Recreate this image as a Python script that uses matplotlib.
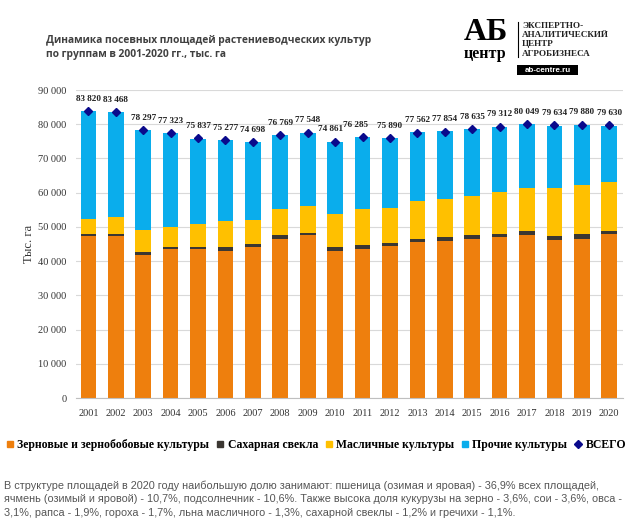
import matplotlib
matplotlib.use("Agg")
import matplotlib.pyplot as plt
from matplotlib.lines import Line2D
from matplotlib.patches import Rectangle
import numpy as np

years = ["2001", "2002", "2003", "2004", "2005", "2006", "2007", "2008", "2009", "2010",
         "2011", "2012", "2013", "2014", "2015", "2016", "2017", "2018", "2019", "2020"]
grain = [47200, 47200, 41900, 43400, 43400, 43000, 44000, 46500, 47500, 43000,
         43500, 44300, 45700, 46000, 46600, 47000, 47600, 46200, 46600, 47900]
sugar = [700, 800, 900, 800, 800, 1000, 1100, 1000, 700, 1200,
         1200, 1000, 800, 900, 900, 1000, 1100, 1100, 1200, 900]
oil = [4300, 4900, 6300, 5900, 6700, 7800, 6900, 7600, 8000, 9500,
       10400, 10200, 11100, 11300, 11500, 12300, 12600, 14000, 14400, 14200]
other = [31600, 30600, 29200, 27200, 24900, 23500, 22700, 21700, 21300, 21200,
         21200, 20400, 20000, 19700, 19600, 19000, 18700, 18300, 17700, 16600]
total = [83820, 83468, 78297, 77323, 75837, 75277, 74698, 76769, 77548, 74861,
         76285, 75890, 77562, 77854, 78635, 79312, 80049, 79634, 79880, 79630]
series_names = ["Зерновые и зернобобовые культуры", "Сахарная свекла",
                "Масличные культуры", "Прочие культуры", "ВСЕГО"]
title_lines = ["Динамика посевных площадей растениеводческих культур",
               "по группам в 2001-2020 гг., тыс. га"]
note_lines = [
    "В структуре площадей в 2020 году наибольшую долю занимают: пшеница (озимая и яровая) - 36,9% всех площадей,",
    "ячмень (озимый и яровой) - 10,7%, подсолнечник - 10,6%. Также высока доля кукурузы на зерно - 3,6%, сои - 3,6%, овса -",
    "3,1%, рапса - 1,9%, гороха - 1,7%, льна масличного - 1,3%, сахарной свеклы - 1,2% и гречихи - 1,1%.",
]

c_grain = "#EE7F0D"
c_sugar = "#3B3732"
c_oil = "#FFC000"
c_other = "#0AADEC"
c_total = "#0A0A8C"

serif = ["Liberation Serif", "DejaVu Serif"]
sans = ["Liberation Sans", "DejaVu Sans"]

W, H = 640, 532
fig = plt.figure(figsize=(W / 100, H / 100), dpi=100)
fig.patch.set_facecolor("white")

ax = fig.add_axes([76 / W, 1 - 398 / H, (623 - 76) / W, (398 - 90) / H])
x = np.arange(len(years))
bw = 0.57
g = np.array(grain); s = np.array(sugar); o = np.array(oil); r = np.array(other)
ax.bar(x, g, bw, color=c_grain, zorder=2)
ax.bar(x, s, bw, bottom=g, color=c_sugar, zorder=2)
ax.bar(x, o, bw, bottom=g + s, color=c_oil, zorder=2)
ax.bar(x, r, bw, bottom=g + s + o, color=c_other, zorder=2)
ax.plot(x, total, linestyle="none", marker="D", markersize=4.5, color=c_total, zorder=3)

for i, t in enumerate(total):
    dx = 0
    if years[i] == "2010":
        dx = -3
    if years[i] == "2011":
        dx = -5
    ax.annotate(f"{t:,}".replace(",", " "), (x[i], t), xytext=(dx, 6),
                textcoords="offset points", ha="center", va="bottom",
                fontsize=6.6, fontweight="bold", family=serif, color="#222222")

ax.set_xlim(-0.45, len(years) - 0.5)
ax.set_ylim(0, 90000)
ax.set_yticks(np.arange(0, 90001, 10000))
ax.set_yticklabels([f"{v:,}".replace(",", " ") for v in range(0, 90001, 10000)],
                   family=serif, fontsize=7.5, color="#333333")
ax.set_xticks(x)
ax.set_xticklabels(years, family=serif, fontsize=7.5, color="#333333")
ax.tick_params(axis="y", length=0, pad=7)
ax.tick_params(axis="x", length=0, pad=8)
ax.yaxis.grid(True, color="#D9D9D9", linewidth=0.8, zorder=0)
for sp in ["top", "right", "left"]:
    ax.spines[sp].set_visible(False)
ax.spines["bottom"].set_color("#BFBFBF")
ax.set_ylabel("Тыс. га", family=serif, fontsize=9, color="#333333", labelpad=2)

handles = [
    Line2D([], [], linestyle="none", marker="s", markersize=5, color=c_grain),
    Line2D([], [], linestyle="none", marker="s", markersize=5, color=c_sugar),
    Line2D([], [], linestyle="none", marker="s", markersize=5, color=c_oil),
    Line2D([], [], linestyle="none", marker="s", markersize=5, color=c_other),
    Line2D([], [], linestyle="none", marker="D", markersize=4, color=c_total),
]
fig.legend(handles, series_names, loc="center", bbox_to_anchor=(316 / W, 1 - 445 / H),
           ncol=5, frameon=False, handlelength=0.7, handletextpad=0.3, columnspacing=0.55,
           prop={"family": serif, "weight": "bold", "size": 8.45})

for k, line in enumerate(title_lines):
    fig.text(46 / W, 1 - (41 + 14 * k) / H, line, ha="left", va="center",
             fontsize=7.4, fontweight="bold", family=["Open Sans", "DejaVu Sans"], color="#404040")

for k, line in enumerate(note_lines):
    fig.text(4 / W, 1 - (486 + 13.3 * k) / H, line, ha="left", va="center",
             fontsize=7.85, family=sans, color="#555555")

# logo
fig.text(486 / W, 1 - 33 / H, "АБ", ha="center", va="center", fontsize=23,
         fontweight="bold", family=serif, color="black")
fig.text(485 / W, 1 - 53.5 / H, "центр", ha="center", va="center", fontsize=11.5,
         fontweight="bold", family=serif, color="black")
fig.add_artist(Line2D([518 / W, 518 / W], [1 - 22 / H, 1 - 57 / H], color="black", linewidth=0.8))
for k, line in enumerate(["ЭКСПЕРТНО-", "АНАЛИТИЧЕСКИЙ", "ЦЕНТР", "АГРОБИЗНЕСА"]):
    fig.text(522 / W, 1 - (26 + 9.2 * k) / H, line, ha="left", va="center", fontsize=6.6,
             fontweight="bold", family=serif, color="#222222")
fig.add_artist(Rectangle((517 / W, 1 - 75 / H), 61 / W, 10 / H, facecolor="black",
                         edgecolor="none", transform=fig.transFigure))
fig.text(547.5 / W, 1 - 70 / H, "ab-centre.ru", ha="center", va="center", fontsize=5.8,
         fontweight="bold", family=sans, color="white")

fig.savefig("out.png", dpi=100, facecolor="white")
